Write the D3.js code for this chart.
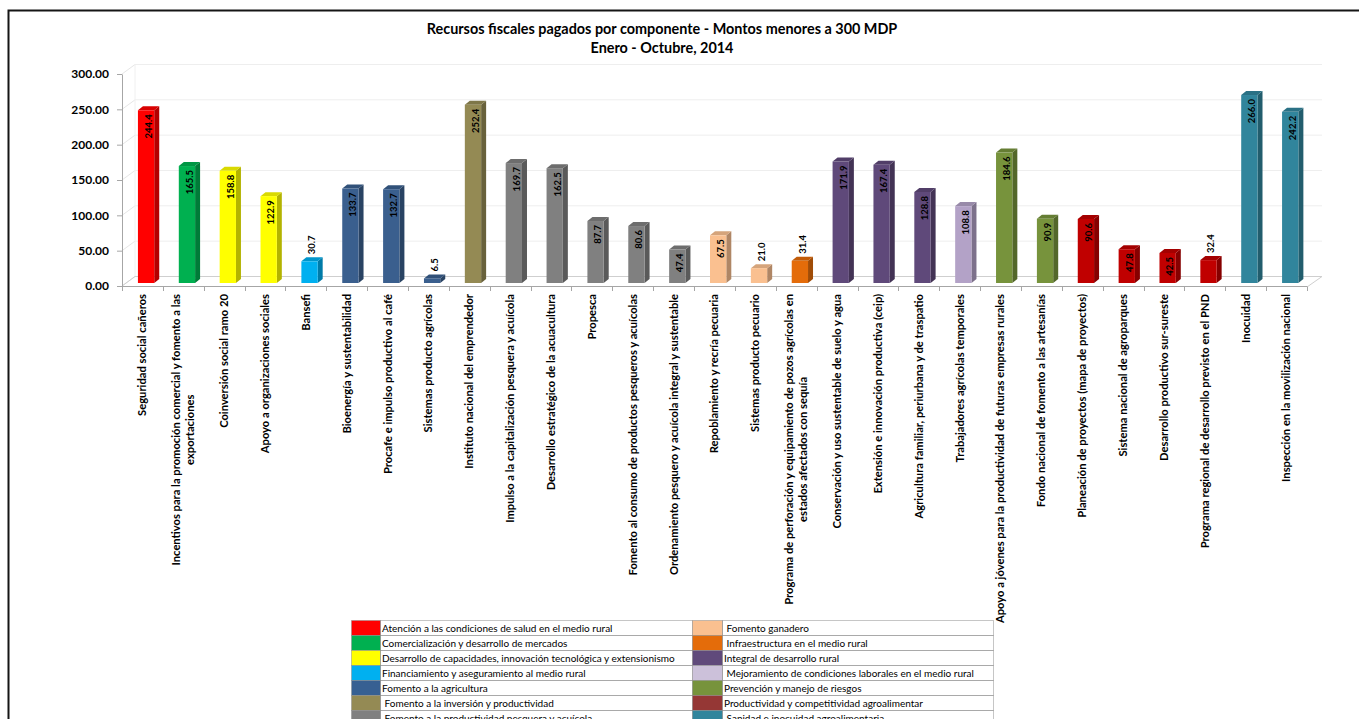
<!DOCTYPE html>
<html><head><meta charset="utf-8">
<script src="https://cdn.jsdelivr.net/npm/d3@7"></script>
<style>
body{margin:0;background:#fff}
svg{display:block}
text{font-family:Lato,'Open Sans',sans-serif}
</style>
</head><body>
<svg id="c" width="1359" height="719"></svg>
<script>
const titleLines = ["Recursos fiscales pagados por componente - Montos menores a 300 MDP", "Enero - Octubre, 2014"];

const categories = [
  "Seguridad social cañeros",
  "Incentivos para la promoción comercial y fomento a las\nexportaciones",
  "Coinversión social ramo 20",
  "Apoyo a organizaciones sociales",
  "Bansefi",
  "Bioenergía y sustentabilidad",
  "Procafe e impulso productivo al café",
  "Sistemas producto agrícolas",
  "Instituto nacional del emprendedor",
  "Impulso a la capitalización pesquera y acuícola",
  "Desarrollo estratégico de la acuacultura",
  "Propesca",
  "Fomento al consumo de productos pesqueros y acuícolas",
  "Ordenamiento pesquero y acuícola integral y sustentable",
  "Repoblamiento y recría pecuaria",
  "Sistemas producto pecuario",
  "Programa de perforación y equipamiento de pozos agrícolas en\nestados afectados con sequía",
  "Conservación y uso sustentable de suelo y agua",
  "Extensión e innovación productiva (ceip)",
  "Agricultura familiar, periurbana y de traspatio",
  "Trabajadores agrícolas temporales",
  "Apoyo a jóvenes para la productividad de futuras empresas rurales",
  "Fondo nacional de fomento a las artesanías",
  "Planeación de proyectos (mapa de proyectos)",
  "Sistema nacional de agroparques",
  "Desarrollo productivo sur-sureste",
  "Programa regional de desarrollo previsto en el PND",
  "Inocuidad",
  "Inspección en la movilización nacional"
];

const values = [244.4, 165.5, 158.8, 122.9, 30.7, 133.7, 132.7, 6.5, 252.4, 169.7, 162.5, 87.7, 80.6, 47.4, 67.5, 21.0, 31.4, 171.9, 167.4, 128.8, 108.8, 184.6, 90.9, 90.6, 47.8, 42.5, 32.4, 266.0, 242.2];

const groupOfBar = [0, 1, 2, 2, 3, 4, 4, 4, 5, 6, 6, 6, 6, 6, 7, 7, 8, 9, 9, 9, 10, 11, 11, 12, 12, 12, 12, 13, 13];

const groups = [
  "Atención a las condiciones de salud en el medio rural",
  "Comercialización y desarrollo de mercados",
  "Desarrollo de capacidades, innovación tecnológica y extensionismo",
  "Financiamiento y aseguramiento al medio rural",
  "Fomento a la agricultura",
  " Fomento a la inversión y productividad",
  " Fomento a la productividad pesquera y acuícola",
  " Fomento ganadero",
  " Infraestructura en el medio rural",
  "Integral de desarrollo rural",
  " Mejoramiento de condiciones laborales en el medio rural",
  "Prevención y manejo de riesgos",
  "Productividad y competitividad agroalimentar",
  " Sanidad e inocuidad agroalimentaria"
];

const legendColors = ["#FF0000", "#00B050", "#FFFF00", "#00B0F0", "#376092", "#948A54", "#808080", "#FAC090", "#E46C0A", "#604A7B", "#CCC1DA", "#77933C", "#953735", "#31859C"];
const barColors = ["#FF0000", "#00B050", "#FFFF00", "#00B0F0", "#3A5F8E", "#948A54", "#808080", "#FAC090", "#E46C0A", "#5F497A", "#B3A2C7", "#77933C", "#C00000", "#31859C"];

const yTicks = [0, 50, 100, 150, 200, 250, 300];

const W = 1359, H = 719;
const svg = d3.select("#c");
svg.append("rect").attr("width", W).attr("height", H).attr("fill", "#fff");

// outer frame (left + top visible)
svg.append("path").attr("d", "M8.5,719V10.5H1359").attr("fill", "none").attr("stroke", "#151515").attr("stroke-width", 2);

// title
svg.selectAll("text.title").data(titleLines).join("text")
  .attr("class", "title")
  .attr("x", 662).attr("y", (d, i) => 34 + i * 19)
  .attr("text-anchor", "middle")
  .attr("font-size", 14.4).attr("font-weight", "bold").attr("fill", "#000")
  .text(d => d);

const y = d3.scaleLinear().domain([0, 300]).range([286, 74]);
const x = d3.scaleBand().domain(d3.range(categories.length)).range([122, 1307]);
const DX = 13, DY = -9.5;
const x0 = 122, x1 = 1307;

// back wall gridlines + side wall
const grid = svg.append("g");
yTicks.forEach(v => {
  grid.append("line").attr("x1", x0 + DX).attr("x2", x1 + DX + 2)
    .attr("y1", y(v) + DY).attr("y2", y(v) + DY)
    .attr("stroke", v === 0 ? "#d9d9d9" : "#eeeeee").attr("stroke-width", 1);
  grid.append("line").attr("x1", x0).attr("x2", x0 + DX)
    .attr("y1", y(v)).attr("y2", y(v) + DY)
    .attr("stroke", "#e6e6e6").attr("stroke-width", 1);
});
grid.append("line").attr("x1", x0 + DX).attr("x2", x0 + DX).attr("y1", y(0) + DY).attr("y2", y(300) + DY).attr("stroke", "#f0f0f0");
// floor
grid.append("path")
  .attr("d", `M${x0},${y(0)}L${x0 + DX},${y(0) + DY}L${x1 + DX + 2},${y(0) + DY}L${x1},${y(0) + 1}`)
  .attr("fill", "none").attr("stroke", "#cfcfcf").attr("stroke-width", 1);

// y axis
const yAxis = svg.append("g").attr("transform", `translate(${x0},0)`)
  .call(d3.axisLeft(y).tickValues(yTicks).tickFormat(d3.format(".2f")).tickSize(5).tickSizeOuter(0).tickPadding(8));
yAxis.select(".domain").attr("stroke", "#a6a6a6");
yAxis.selectAll(".tick line").attr("stroke", "#a6a6a6");
yAxis.selectAll(".tick text").attr("font-size", 12).attr("font-weight", "bold").attr("fill", "#000")
  .style("font-family", "Lato, 'Open Sans', sans-serif");

// x axis line and ticks at band boundaries
const xAxis = svg.append("g");
xAxis.append("line").attr("x1", x0).attr("x2", x1).attr("y1", y(0) + 0.5).attr("y2", y(0) + 0.5).attr("stroke", "#a6a6a6");
const bounds = d3.range(categories.length).map(i => x(i)).concat([x1]);
xAxis.selectAll("line.tk").data(bounds).join("line").attr("class", "tk")
  .attr("x1", d => Math.round(d) + 0.5).attr("x2", d => Math.round(d) + 0.5)
  .attr("y1", y(0) + 0.5).attr("y2", y(0) + 5)
  .attr("stroke", "#a6a6a6");

// bars
const FW = 16.3, BDX = 5, BDY = -4, FOFF = -4.5, LIFT = 3;
const bars = svg.append("g");
values.forEach((v, i) => {
  const cx = x(i) + x.bandwidth() / 2;
  const fx = cx + FOFF;
  const top = y(v) - LIFT;
  const bot = y(0) - LIFT;
  const c = barColors[groupOfBar[i]];
  const side = d3.color(c).darker(1.0).formatHex();
  const topc = d3.color(c).darker(0.45).formatHex();
  bars.append("path")
    .attr("d", `M${fx + FW},${top}L${fx + FW + BDX},${top + BDY}L${fx + FW + BDX},${bot + BDY}L${fx + FW},${bot}Z`)
    .attr("fill", side);
  bars.append("path")
    .attr("d", `M${fx},${top}L${fx + BDX},${top + BDY}L${fx + FW + BDX},${top + BDY}L${fx + FW},${top}Z`)
    .attr("fill", topc);
  bars.append("rect").attr("x", fx).attr("y", top).attr("width", FW).attr("height", bot - top).attr("fill", c);

  // value label
  const lx = fx + (FW + BDX) / 2;
  const inside = v >= 40;
  bars.append("text")
    .attr("transform", inside ? `translate(${lx},${top + 4}) rotate(-90)` : `translate(${lx},${top - 7}) rotate(-90)`)
    .attr("text-anchor", inside ? "end" : "start")
    .attr("dy", "0.35em")
    .attr("font-size", 9.5).attr("font-weight", "bold").attr("fill", "#000")
    .text(d3.format(".1f")(v));
});

// x category labels
const labels = svg.append("g");
categories.forEach((cat, i) => {
  const cx = x(i) + x.bandwidth() / 2;
  const lines = cat.split("\n");
  const g = labels.append("g").attr("transform", `translate(${cx},294) rotate(-90)`);
  const ts = lines.map((ln, j) => g.append("text")
    .attr("y", (j - (lines.length - 1) / 2) * 13.5)
    .attr("dy", "0.35em")
    .attr("font-size", 11.2).attr("font-weight", "bold").attr("fill", "#000")
    .text(ln));
  if (lines.length === 1) {
    ts[0].attr("text-anchor", "end").attr("x", 0);
  } else {
    const maxLen = d3.max(ts, t => t.node().getComputedTextLength());
    ts.forEach(t => t.attr("text-anchor", "middle").attr("x", -maxLen / 2));
  }
});

// legend table
const leg = svg.append("g");
const LT = 620, RH = 15;
const cols = [
  {sx: 351, sw: 29, tx0: 380, tx1: 692, txt: 382},
  {sx: 692, sw: 30, tx0: 722, tx1: 993, txt: 724}
];
groups.forEach((name, k) => {
  const col = cols[Math.floor(k / 7)];
  const r = k % 7;
  const ty = LT + r * RH;
  leg.append("rect").attr("x", col.sx + 0.5).attr("y", ty + 0.5).attr("width", col.sw).attr("height", RH)
    .attr("fill", legendColors[k]).attr("stroke", "#8c8c8c").attr("stroke-dasharray", "1,1");
  leg.append("rect").attr("x", col.tx0 + 0.5).attr("y", ty + 0.5).attr("width", col.tx1 - col.tx0).attr("height", RH)
    .attr("fill", "none").attr("stroke", "#8c8c8c").attr("stroke-dasharray", "1,1");
  leg.append("text").attr("x", col.txt).attr("y", ty + 11.5)
    .attr("font-size", 10).attr("fill", "#000")
    .attr("xml:space", "preserve").style("white-space", "pre")
    .text(name);
});
</script>
</body></html>
